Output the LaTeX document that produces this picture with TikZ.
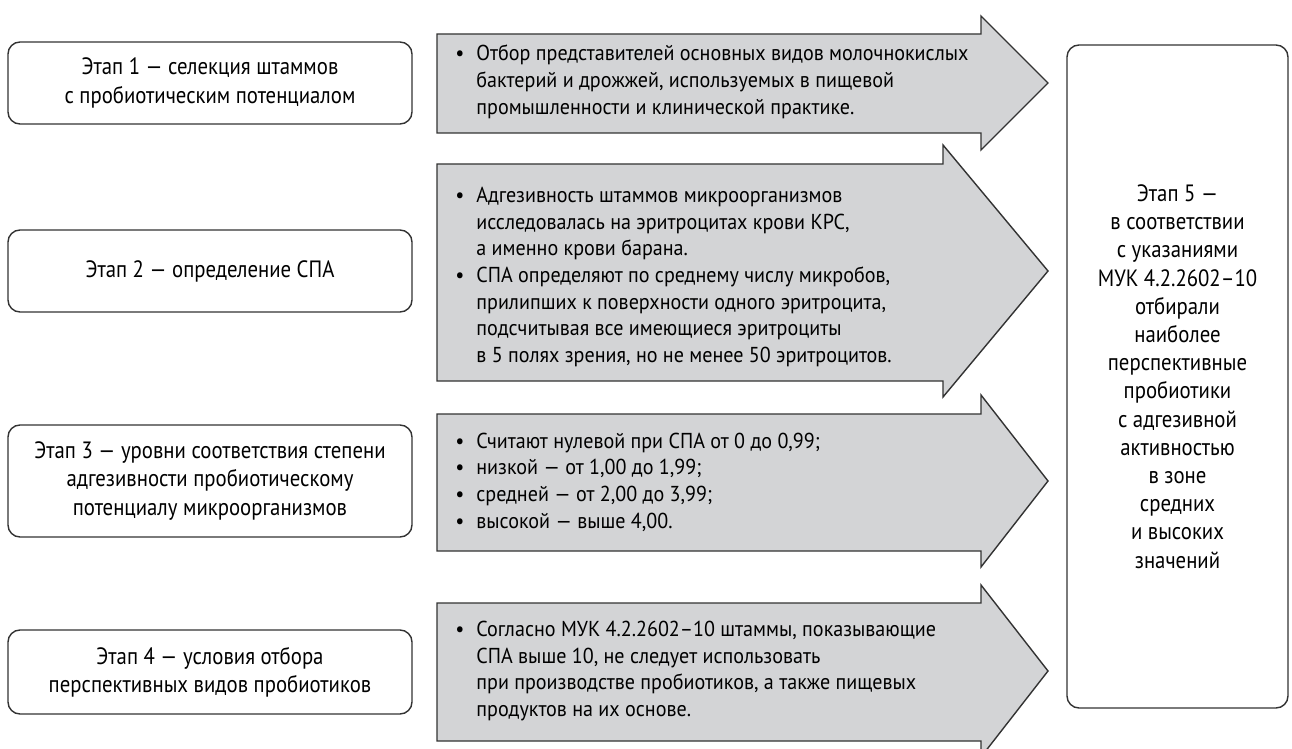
\documentclass[tikz,border=0pt]{standalone}
\usepackage{fontspec}
\setmainfont[FakeStretch=0.93]{PT Sans}
\newfontfamily\stagefont[FakeStretch=0.88]{PT Sans}
\usepackage{tikz}
\usetikzlibrary{positioning,calc}

\definecolor{boxgray}{RGB}{211,212,214}
\definecolor{linegray}{RGB}{51,51,51}
\newcommand{\blt}{\makebox[10.5pt][l]{\textbullet}}
\newcommand{\hng}{\hspace*{10.5pt}}

\tikzset{
  stage/.style={draw=linegray,line width=0.7pt,rounded corners=6pt,minimum width=202pt,align=center,inner sep=0pt,
    font=\stagefont\fontsize{11.8}{14.1}\selectfont},
  arrowbox/.style={draw=linegray,fill=boxgray,line width=0.7pt,line join=miter},
  info/.style={anchor=west,align=left,inner sep=0pt},
}

\begin{document}
\begin{tikzpicture}[x=0.5pt,y=-0.5pt,font=\fontsize{10.8}{13.35}\selectfont]
\useasboundingbox (0,0) rectangle (1292,749);

% block arrows
\draw[arrowbox] (437,34) -- (981,34) -- (981,16) -- (1048,83) -- (981,150) -- (981,133) -- (437,133) -- cycle;
\draw[arrowbox] (437,164) -- (943,164) -- (943,145) -- (1048,271) -- (943,397) -- (943,381) -- (437,381) -- cycle;
\draw[arrowbox] (437,414) -- (981,414) -- (981,395) -- (1048,481) -- (981,567) -- (981,551) -- (437,551) -- cycle;
\draw[arrowbox] (437,603) -- (981,603) -- (981,585) -- (1048,671) -- (981,757) -- (981,741) -- (437,741) -- cycle;

% stages
\node[stage,minimum height=41pt] (s1) at (210,83) {Этап 1 — селекция штаммов\\с пробиотическим потенциалом};
\node[stage,minimum height=41pt] (s2) at (210,271) {Этап 2 — определение СПА};
\node[stage,minimum height=56pt] (s3) at (210,481) {Этап 3 — уровни соответствия степени\\адгезивности пробиотическому\\потенциалу микроорганизмов};
\node[stage,minimum height=42pt] (s4) at (210,672) {Этап 4 — условия отбора\\перспективных видов пробиотиков};
\node[stage,minimum width=110.5pt,minimum height=331.5pt] (s5) at (1177.5,376.5) {Этап 5 —\\в соответствии\\с указаниями\\МУК 4.2.2602–10\\отбирали\\наиболее\\перспективные\\пробиотики\\с адгезивной\\активностью\\в зоне\\средних\\и высоких\\значений};

% texts in the arrows
\node[info] (t1) at (455,82) {\blt Отбор представителей основных видов молочнокислых\\\hng бактерий и дрожжей, используемых в пищевой\\\hng промышленности и клинической практике.};
\node[info] (t2) at (455,277) {\blt Адгезивность штаммов микроорганизмов\\\hng исследовалась на эритроцитах крови КРС,\\\hng а именно крови барана.\\\blt СПА определяют по среднему числу микробов,\\\hng прилипших к поверхности одного эритроцита,\\\hng подсчитывая все имеющиеся эритроциты\\\hng в 5 полях зрения, но не менее 50 эритроцитов.};
\node[info] (t3) at (455,482) {\blt Считают нулевой при СПА от 0 до 0,99;\\\blt низкой — от 1,00 до 1,99;\\\blt средней — от 2,00 до 3,99;\\\blt высокой — выше 4,00.};
\node[info] (t4) at (455,671) {\blt Согласно МУК 4.2.2602–10 штаммы, показывающие\\\hng СПА выше 10, не следует использовать\\\hng при производстве пробиотиков, а также пищевых\\\hng продуктов на их основе.};
\end{tikzpicture}
\end{document}
